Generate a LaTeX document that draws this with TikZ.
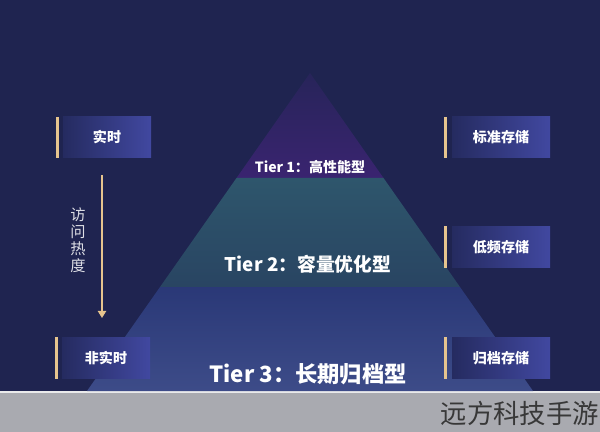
\documentclass[tikz,border=0pt]{standalone}
\usepackage{fontspec}
\newfontfamily\cjk{Noto Sans CJK SC}
\usetikzlibrary{arrows.meta}

\definecolor{navybg}{HTML}{1F2450}
\definecolor{grayband}{HTML}{A9AAB0}
\definecolor{goldline}{HTML}{E6C48E}
\definecolor{tierone}{HTML}{3A2470}
\definecolor{tiertwo}{HTML}{2E566C}
\definecolor{tierthree}{HTML}{2C3C7E}
\definecolor{boxdark}{HTML}{252B60}
\definecolor{boxlight}{HTML}{4148A0}

\begin{document}
\begin{tikzpicture}[x=0.03cm, y=-0.03cm,
    label box/.style={rectangle, left color=boxdark, right color=boxlight,
        minimum height=1.23cm, text=white, font=\cjk\fontsize{12}{14}\selectfont\bfseries},
    side bar/.style={goldline, line width=2.2pt},
    tier text/.style={text=white, inner sep=0pt}]
    \useasboundingbox (0,0) rectangle (600,432);
    \fill[navybg] (0,0) rectangle (600,392);
    \fill[grayband] (0,392) rectangle (600,432);
    \draw[white!75!grayband, line width=1.5pt] (0,392) -- (600,392);

    % pyramid
    \shade[top color=navybg!70!tierone, bottom color=tierone] (310,73) -- (236.5,178) -- (383.5,178) -- cycle;
    \shade[top color=tiertwo, bottom color=tiertwo!65!navybg] (236.5,178) -- (160,287) -- (460,287) -- (383.5,178) -- cycle;
    \shade[top color=tierthree!85!navybg, bottom color=tierthree!92!white] (160,287) -- (87,391) -- (533,391) -- (460,287) -- cycle;

    \node[tier text, font=\cjk\fontsize{12}{14}\selectfont\bfseries] (t1) at (310,167) {Tier 1：高性能型};
    \node[tier text, font=\cjk\fontsize{16}{18}\selectfont\bfseries] (t2) at (308,264) {Tier 2：容量优化型};
    \node[tier text, font=\cjk\fontsize{19}{21}\selectfont\bfseries] (t3) at (308,374) {Tier 3：长期归档型};

    % left side
    \node[label box, minimum width=2.64cm] (rt) at (107,137.5) {实时};
    \node[label box, minimum width=2.64cm] (nrt) at (106,358) {非实时};
    \draw[side bar] ([xshift=-0.15cm]rt.north west) -- ([xshift=-0.15cm]rt.south west);
    \draw[side bar] ([xshift=-0.15cm]nrt.north west) -- ([xshift=-0.15cm]nrt.south west);

    \coordinate (hotA) at (102,175);
    \coordinate (hotB) at (102,318);
    \draw[goldline, line width=1.6pt, -{Triangle[width=7pt,length=6pt]}] (hotA) -- (hotB);
    \node[text=white!85!navybg, align=center, font=\cjk\fontsize{13}{14.5}\selectfont] (heat) at (78,240) {访\\问\\热\\度};

    % right side
    \node[label box, minimum width=2.94cm] (std) at (501,137.5) {标准存储};
    \node[label box, minimum width=2.94cm] (low) at (501,247) {低频存储};
    \node[label box, minimum width=2.94cm] (arc) at (501,358) {归档存储};
    \foreach \b in {std,low,arc}
        \draw[side bar] ([xshift=-0.18cm]\b.north west) -- ([xshift=-0.18cm]\b.south west);

    \node[text=black!78, anchor=east, font=\cjk\fontsize{22.5}{24}\selectfont] (mark) at (603,413) {远方科技手游};
\end{tikzpicture}
\end{document}
